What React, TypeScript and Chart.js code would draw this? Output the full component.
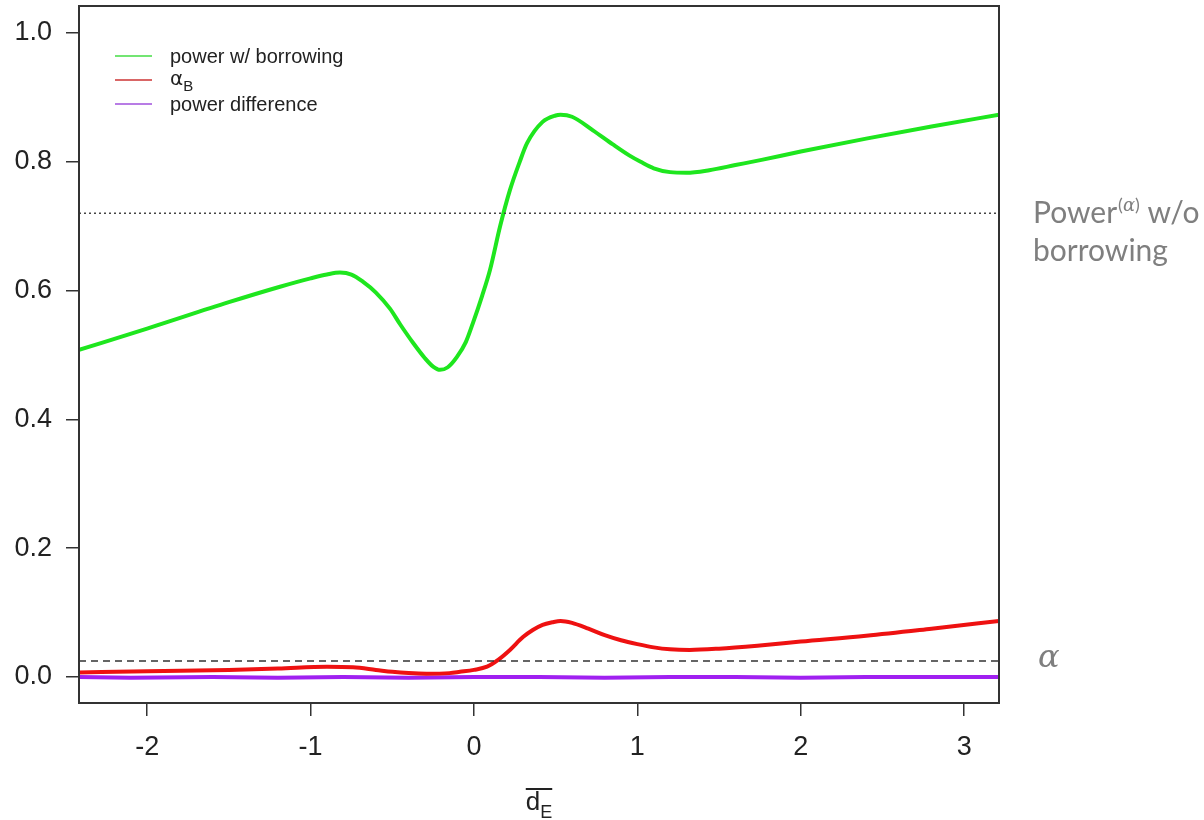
import React, { useEffect, useRef } from "react";
import { Chart, registerables } from "chart.js";

Chart.register(...registerables);

// Axis extents and tick values
const X_MIN = -2.417;
const X_MAX = 3.213;
const Y_MIN = -0.0404;
const Y_MAX = 1.042;
const xTicks = [-2, -1, 0, 1, 2, 3];
const yTicks = [0, 0.2, 0.4, 0.6, 0.8, 1.0];

// Power with borrowing (green)
const powerX = [-2.417, -2.0, -1.5, -1.187, -1.0, -0.9, -0.82, -0.75, -0.68, -0.6, -0.514, -0.45, -0.373, -0.3, -0.25, -0.208, -0.16, -0.104, -0.05, -0.006, 0.05, 0.098, 0.16, 0.22, 0.28, 0.325, 0.42, 0.5, 0.53, 0.6, 0.728, 0.85, 0.95, 1.02, 1.1, 1.2, 1.3, 1.44, 1.6, 1.76, 2.0, 2.4, 2.8, 3.213];
const powerY = [0.508, 0.541, 0.582, 0.606, 0.619, 0.625, 0.628, 0.625, 0.614, 0.597, 0.572, 0.547, 0.519, 0.495, 0.482, 0.477, 0.481, 0.497, 0.52, 0.55, 0.592, 0.632, 0.7, 0.756, 0.8, 0.829, 0.862, 0.872, 0.873, 0.87, 0.849, 0.827, 0.81, 0.8, 0.79, 0.784, 0.783, 0.787, 0.795, 0.803, 0.816, 0.836, 0.855, 0.873];

// Type I error with borrowing (red)
const alphaX = [-2.417, -2.0, -1.5, -1.2, -0.9, -0.74, -0.6, -0.5, -0.4, -0.29, -0.15, -0.086, 0.0, 0.08, 0.15, 0.22, 0.3, 0.36, 0.42, 0.48, 0.53, 0.6, 0.7, 0.8, 0.9, 1.0, 1.1, 1.2, 1.32, 1.5, 1.75, 2.0, 2.4, 2.8, 3.213];
const alphaY = [0.007, 0.009, 0.011, 0.013, 0.016, 0.015, 0.011, 0.008, 0.006, 0.005, 0.006, 0.008, 0.011, 0.016, 0.027, 0.042, 0.062, 0.073, 0.081, 0.085, 0.087, 0.084, 0.075, 0.065, 0.057, 0.051, 0.046, 0.043, 0.042, 0.044, 0.049, 0.055, 0.064, 0.075, 0.087];

// Power difference (purple)
const diffX = [-2.417, -2.1, -1.6, -1.2, -0.8, -0.4, 0.0, 0.4, 0.8, 1.2, 1.6, 2.0, 2.4, 2.8, 3.213];
const diffY = [0.0, -0.001, 0.0, -0.001, 0.0, -0.001, 0.0, 0.0, -0.001, 0.0, 0.0, -0.001, 0.0, 0.0, 0.0];

// Reference levels
const powerNoBorrow = 0.72;
const nominalAlpha = 0.025;
const refX = [X_MIN, X_MAX];

const GREEN = "#1ee61e";
const RED = "#ee1111";
const PURPLE = "#a020f0";
const TICK_FONT = { family: "'Liberation Sans', Arial, sans-serif", size: 27 };

const toPoints = (xs: number[], ys: number[]) => xs.map((x, i) => ({ x, y: ys[i] }));

const noScalePadding = (s: any) => {
  s.paddingTop = 0;
  s.paddingBottom = 0;
  s.paddingLeft = 0;
  s.paddingRight = 0;
};

const decorations = {
  id: "decorations",
  afterDraw(chart: any) {
    const ctx = chart.ctx as CanvasRenderingContext2D;
    const { left, top, right, bottom } = chart.chartArea;
    ctx.save();

    // Plot frame
    ctx.strokeStyle = "#333";
    ctx.lineWidth = 2;
    ctx.strokeRect(left, top, right - left, bottom - top);

    // Legend
    const rows = [
      { color: "#44dd44", y: top + 50 },
      { color: "#cc3333", y: top + 74 },
      { color: "#a050dd", y: top + 98 },
    ];
    ctx.lineWidth = 1.5;
    rows.forEach((r) => {
      ctx.strokeStyle = r.color;
      ctx.beginPath();
      ctx.moveTo(left + 36, r.y);
      ctx.lineTo(left + 73, r.y);
      ctx.stroke();
    });
    ctx.fillStyle = "#222";
    ctx.textBaseline = "alphabetic";
    ctx.textAlign = "left";
    const tx = left + 91;
    ctx.font = "20px 'Liberation Sans', Arial, sans-serif";
    ctx.fillText("power w/ borrowing", tx, rows[0].y + 7);
    ctx.font = "20px 'DejaVu Sans', sans-serif";
    ctx.fillText("α", tx, rows[1].y + 5);
    const aw = ctx.measureText("α").width;
    ctx.font = "15px 'Liberation Sans', Arial, sans-serif";
    ctx.fillText("B", tx + aw, rows[1].y + 11);
    ctx.font = "20px 'Liberation Sans', Arial, sans-serif";
    ctx.fillText("power difference", tx, rows[2].y + 7);

    // X axis title: overlined d with subscript E
    const cx = (left + right) / 2;
    ctx.font = "26px 'Liberation Sans', Arial, sans-serif";
    const dw = ctx.measureText("d").width;
    ctx.font = "18px 'Liberation Sans', Arial, sans-serif";
    const ew = ctx.measureText("E").width;
    const x0 = cx - (dw + ew) / 2;
    ctx.font = "26px 'Liberation Sans', Arial, sans-serif";
    ctx.fillText("d", x0, 810);
    ctx.font = "18px 'Liberation Sans', Arial, sans-serif";
    ctx.fillText("E", x0 + dw, 818);
    ctx.strokeStyle = "#222";
    ctx.lineWidth = 2;
    ctx.beginPath();
    ctx.moveTo(x0, 789);
    ctx.lineTo(x0 + dw + ew, 789);
    ctx.stroke();

    // Right-hand annotations
    ctx.fillStyle = "#7f7f7f";
    let ax = 1033;
    ctx.font = "30px Lato, 'Open Sans', sans-serif";
    ctx.fillText("Power", ax, 223);
    ax += ctx.measureText("Power").width + 1;
    ctx.font = "18px Lato, 'Open Sans', sans-serif";
    ctx.fillText("(", ax, 211);
    ax += ctx.measureText("(").width;
    ctx.font = "italic 18px 'DejaVu Serif', serif";
    ctx.fillText("α", ax, 211);
    ax += ctx.measureText("α").width;
    ctx.font = "18px Lato, 'Open Sans', sans-serif";
    ctx.fillText(")", ax, 211);
    ax += ctx.measureText(")").width;
    ctx.font = "30px Lato, 'Open Sans', sans-serif";
    ctx.fillText(" w/o", ax, 223);
    ctx.fillText("borrowing", 1033, 261);

    ctx.font = "italic 32px 'DejaVu Serif', serif";
    ctx.fillText("α", 1038, 667);

    ctx.restore();
  },
};

export default function App() {
  const canvasRef = useRef<HTMLCanvasElement | null>(null);

  useEffect(() => {
    if (!canvasRef.current) return;
    const chart = new Chart(canvasRef.current, {
      type: "line",
      data: {
        datasets: [
          {
            label: "power w/o borrowing",
            data: toPoints(refX, [powerNoBorrow, powerNoBorrow]),
            borderColor: "#444",
            borderWidth: 1.5,
            borderDash: [2, 3],
            pointRadius: 0,
          },
          {
            label: "alpha",
            data: toPoints(refX, [nominalAlpha, nominalAlpha]),
            borderColor: "#333",
            borderWidth: 1.5,
            borderDash: [7, 5],
            pointRadius: 0,
          },
          {
            label: "power w/ borrowing",
            data: toPoints(powerX, powerY),
            borderColor: GREEN,
            borderWidth: 4,
            pointRadius: 0,
            cubicInterpolationMode: "monotone",
          },
          {
            label: "alpha_B",
            data: toPoints(alphaX, alphaY),
            borderColor: RED,
            borderWidth: 4,
            pointRadius: 0,
            cubicInterpolationMode: "monotone",
          },
          {
            label: "power difference",
            data: toPoints(diffX, diffY),
            borderColor: PURPLE,
            borderWidth: 4,
            pointRadius: 0,
            tension: 0,
          },
        ],
      },
      options: {
        animation: false,
        responsive: false,
        devicePixelRatio: 1,
        layout: { padding: { left: 0, top: 6, right: 205, bottom: 0 } },
        plugins: { legend: { display: false }, tooltip: { enabled: false } },
        scales: {
          x: {
            type: "linear",
            min: X_MIN,
            max: X_MAX,
            afterBuildTicks: (s: any) => {
              s.ticks = xTicks.map((v) => ({ value: v }));
            },
            afterFit: (s: any) => {
              s.height = 117;
              noScalePadding(s);
            },
            ticks: {
              callback: (v: any) => String(v),
              font: TICK_FONT,
              color: "#222",
              padding: 15,
              maxRotation: 0,
              autoSkip: false,
            },
            grid: { display: true, drawOnChartArea: false, drawTicks: true, tickLength: 13, color: "#333", lineWidth: 1.5 },
            border: { display: false },
          },
          y: {
            type: "linear",
            min: Y_MIN,
            max: Y_MAX,
            afterBuildTicks: (s: any) => {
              s.ticks = yTicks.map((v) => ({ value: v }));
            },
            afterFit: (s: any) => {
              s.width = 79;
              noScalePadding(s);
            },
            ticks: {
              callback: (v: any) => Number(v).toFixed(1),
              font: TICK_FONT,
              color: "#222",
              padding: 14,
              autoSkip: false,
            },
            grid: { display: true, drawOnChartArea: false, drawTicks: true, tickLength: 13, color: "#333", lineWidth: 1.5 },
            border: { display: false },
          },
        },
      },
      plugins: [decorations],
    });
    return () => chart.destroy();
  }, []);

  return (
    <div style={{ position: "fixed", left: 0, top: 0, width: 1204, height: 820, background: "#fff" }}>
      <canvas ref={canvasRef} width={1204} height={820} style={{ display: "block" }} />
    </div>
  );
}
